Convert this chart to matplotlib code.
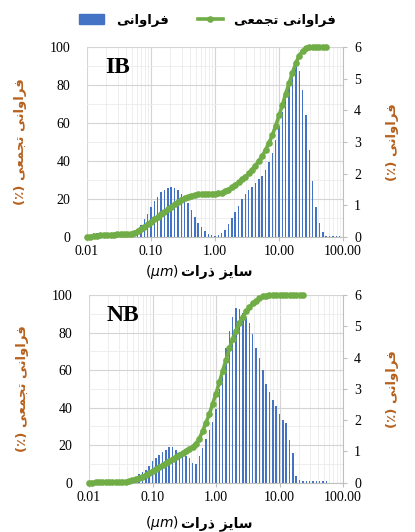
import matplotlib.pyplot as plt
from matplotlib.patches import Patch
from matplotlib.lines import Line2D
from matplotlib.ticker import MultipleLocator, LogLocator, NullFormatter

# particle size channels (um), 19 per decade
size_um = [0.0100, 0.0113, 0.0127, 0.0144, 0.0162, 0.0183, 0.0207, 0.0234, 0.0264, 0.0298,
           0.0336, 0.0379, 0.0428, 0.0483, 0.0546, 0.0616, 0.0695, 0.0785, 0.0886,
           0.100, 0.113, 0.127, 0.144, 0.162, 0.183, 0.207, 0.234, 0.264, 0.298,
           0.336, 0.379, 0.428, 0.483, 0.546, 0.616, 0.695, 0.785, 0.886,
           1.00, 1.13, 1.27, 1.44, 1.62, 1.83, 2.07, 2.34, 2.64, 2.98,
           3.36, 3.79, 4.28, 4.83, 5.46, 6.16, 6.95, 7.85, 8.86,
           10.0, 11.3, 12.7, 14.4, 16.2, 18.3, 20.7, 23.4, 26.4, 29.8,
           33.6, 37.9, 42.8, 48.3, 54.6, 61.6, 69.5, 78.5, 88.6]

# IB: frequency (%) per channel, cumulative (%)
ib_freq = [0, 0.04, 0.12, 0.12, 0.12, 0.10, 0.03, 0.02, 0.02, 0.02,
           0.02, 0.02, 0.02, 0.03, 0.06, 0.16, 0.38, 0.57, 0.73, 0.96,
           1.14, 1.27, 1.41, 1.48, 1.54, 1.59, 1.54, 1.48, 1.36, 1.17,
           1.06, 0.85, 0.64, 0.45, 0.32, 0.20, 0.10, 0.05, 0.03, 0.05,
           0.12, 0.22, 0.40, 0.61, 0.78, 0.99, 1.19, 1.36, 1.47, 1.59,
           1.70, 1.82, 1.94, 2.12, 2.38, 2.66, 3.07, 3.50, 3.96, 4.43,
           4.92, 5.34, 5.58, 5.25, 4.64, 3.85, 2.75, 1.77, 0.96, 0.43,
           0.15, 0.04, 0.03, 0.03, 0.03, 0.03]
ib_cum = [0.0, 0.2, 0.4, 0.6, 0.8, 1.0, 1.1, 1.2, 1.3, 1.4,
          1.5, 1.6, 1.7, 1.8, 2.2, 3.0, 4.2, 5.4, 6.7, 8.0,
          9.3, 10.6, 11.9, 13.2, 14.6, 16.0, 17.3, 18.5, 19.6, 20.5,
          21.2, 21.8, 22.2, 22.5, 22.7, 22.8, 22.8, 22.9, 22.9, 23.0,
          23.4, 24.0, 25.0, 26.2, 27.5, 28.8, 30.3, 31.8, 33.6, 35.5,
          37.5, 40.0, 42.7, 45.8, 49.5, 53.5, 58.5, 64.0, 69.5, 75.5,
          81.0, 86.5, 91.5, 95.5, 98.0, 99.3, 99.8, 100, 100, 100,
          100, 100]

# NB
nb_freq = [0, 0, 0, 0, 0, 0, 0, 0, 0.01, 0.01,
           0.02, 0.03, 0.05, 0.10, 0.18, 0.29, 0.34, 0.42, 0.53, 0.70,
           0.79, 0.90, 0.98, 1.04, 1.13, 1.15, 1.03, 0.98, 0.91, 0.84,
           0.78, 0.64, 0.60, 0.85, 1.10, 1.40, 1.70, 1.95, 2.35, 3.00,
           3.60, 4.30, 4.85, 5.30, 5.60, 5.55, 5.42, 5.25, 5.10, 4.75,
           4.30, 4.00, 3.60, 3.15, 2.90, 2.65, 2.45, 2.20, 2.00, 1.90,
           1.35, 0.95, 0.20, 0.10, 0.05, 0.04, 0.04, 0.04, 0.04, 0.04,
           0.04, 0.04, 0, 0, 0, 0]
nb_cum = [0, 0.05, 0.1, 0.15, 0.2, 0.25, 0.3, 0.35, 0.4, 0.45,
          0.5, 0.6, 0.8, 1.2, 1.7, 2.4, 3.2, 4.1, 5.1, 6.1,
          7.2, 8.3, 9.4, 10.5, 11.6, 12.7, 13.8, 14.8, 15.8, 16.8,
          17.9, 19.2, 20.8, 23.5, 27.5, 32.0, 36.5, 42.0, 47.5, 53.5,
          59.5, 65.5, 71.5, 76.5, 81.0, 85.0, 88.5, 91.3, 93.5, 95.5,
          97.0, 98.3, 99.2, 99.7, 99.9, 100, 100, 100, 100, 100,
          100, 100, 100, 100, 100]

x_ticks = [0.01, 0.1, 1, 10, 100]
x_ticklabels = ['0.01', '0.10', '1.00', '10.00', '100.00']

# Persian text, pre-shaped into presentation forms in visual order
# (matplotlib does no Arabic shaping / bidi)
FREQ = '\uFEF0\uFEE7\uFE8D\uFEED\uFE8D\uFEAE\uFED3'            # فراوانی
CUM = '\uFEF0\uFECC\uFEE4\uFEA0\uFE97'                           # تجمعی
SIZE = '\uFE95\uFE8D\uFEAD\uFEAB \uFEB0\uFEF3\uFE8E\uFEB3'       # سایز ذرات
PCT = '(\u066A)'

BLUE = '#4472C4'
GREEN = '#70AD47'
LABEL_COL = '#B8611E'
FA = 'DejaVu Sans'
SERIF = 'Liberation Serif'

fig = plt.figure(figsize=(4.15, 5.32), dpi=100)

panels = [('IB', ib_freq, ib_cum, [0.2096, 0.5545, 0.617, 0.357], 0.489),
          ('NB', nb_freq, nb_cum, [0.2145, 0.0927, 0.612, 0.3528], 0.016)]

k = 10 ** (0.22 / 19)
lefts = [s / k for s in size_um]
widths = [s * k - s / k for s in size_um]

for name, freq, cum, rect, xl_y in panels:
    ax = fig.add_axes(rect)
    ax.set_xscale('log')
    ax.set_xlim(0.01, 100)
    ax.set_ylim(0, 100)
    ax.set_yticks(range(0, 101, 20))
    ax.yaxis.set_minor_locator(MultipleLocator(10))
    ax.set_xticks(x_ticks)
    ax.set_xticklabels(x_ticklabels)
    ax.xaxis.set_minor_locator(LogLocator(base=10, subs=range(2, 10)))
    ax.xaxis.set_minor_formatter(NullFormatter())
    ax.grid(which='major', color='#d4d4d4', lw=0.8)
    ax.grid(which='minor', color='#ebebeb', lw=0.6)
    ax.set_axisbelow(True)
    for s in ['left', 'top', 'right']:
        ax.spines[s].set_visible(False)
    ax.spines['bottom'].set_color('#bfbfbf')
    ax.tick_params(axis='y', which='both', length=0, pad=12)
    ax.tick_params(axis='x', which='major', length=3, color='#bfbfbf', pad=3)
    ax.tick_params(axis='x', which='minor', length=0)
    for lab in ax.get_xticklabels() + ax.get_yticklabels():
        lab.set_fontfamily(SERIF)
        lab.set_fontsize(10)
    ax.set_ylabel(PCT + ' ' + CUM + ' ' + FREQ, family=FA, fontsize=9.5,
                  fontweight='bold', color=LABEL_COL, labelpad=16)
    ax.text(0.07, 0.89, name, transform=ax.transAxes, family=SERIF,
            fontsize=17, fontweight='bold', va='center', ha='left')

    ax2 = ax.twinx()
    ax2.set_ylim(0, 6)
    ax2.bar(lefts, freq, width=widths, align='edge', color=BLUE, lw=0)
    for s in ['left', 'top', 'bottom']:
        ax2.spines[s].set_visible(False)
    ax2.spines['right'].set_color('#bfbfbf')
    ax2.tick_params(axis='y', length=3, color='#bfbfbf', pad=5)
    for lab in ax2.get_yticklabels():
        lab.set_fontfamily(SERIF)
        lab.set_fontsize(10)
    ax2.set_ylabel(PCT + ' ' + FREQ, family=FA, fontsize=9.5, fontweight='bold',
                   color=LABEL_COL, labelpad=18)

    ax3 = ax.twinx()
    ax3.set_ylim(0, 100)
    ax3.axis('off')
    ax3.plot(size_um[:len(cum)], cum, color=GREEN, lw=2.6, marker='o', ms=4.8,
             mew=0, clip_on=False)

    # x label: Persian words plus the unit
    fig.text(0.437, xl_y, SIZE, family=FA, fontsize=10, fontweight='bold',
             ha='left', va='center')
    fig.text(0.430, xl_y, r'$(\mu m)$', fontsize=10, ha='right', va='center')

handles = [Patch(color=BLUE), Line2D([], [], color=GREEN, lw=2.6, marker='o', ms=4.8, mew=0)]
labels = [FREQ, CUM + ' ' + FREQ]
fig.legend(handles, labels, loc='center', bbox_to_anchor=(0.5, 0.962), ncol=2,
           frameon=False, prop={'family': FA, 'size': 9.5, 'weight': 'bold'},
           handlelength=1.9, columnspacing=2.2, handletextpad=0.9)

fig.savefig('out.png', dpi=100)
